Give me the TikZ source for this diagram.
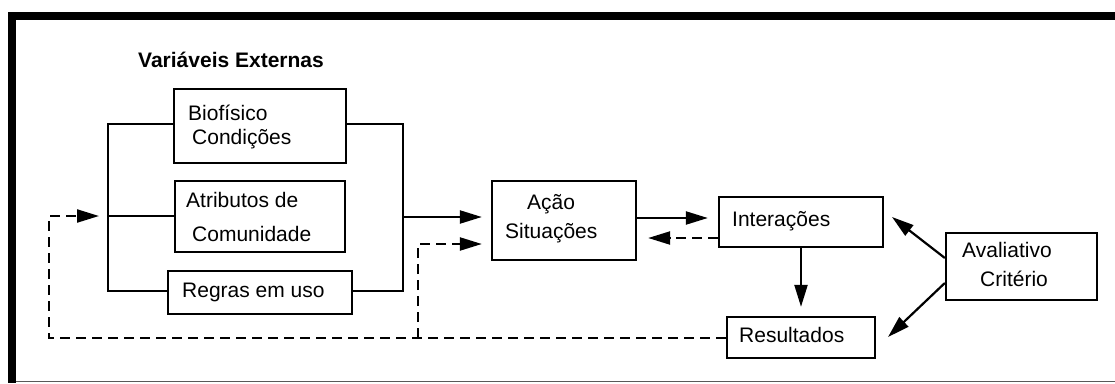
\documentclass[tikz,border=0pt]{standalone}
\usepackage{fontspec}
\setmainfont{Liberation Sans}
\usetikzlibrary{arrows.meta}
\begin{document}
\begin{tikzpicture}[x=1pt,y=-1pt,
  box/.style={draw,line width=2.3pt,inner sep=0pt},
  txt/.style={anchor=base west,inner sep=0pt,font=\fontsize{21}{25}\selectfont},
  conn/.style={line width=2.2pt},
  arr/.style={conn,-{Triangle[length=22pt,width=13pt]}},
  dsh/.style={dash pattern=on 10pt off 6pt}]
\useasboundingbox (0,0) rectangle (1115,383);
% frame
\fill (8,12) rectangle (1115,20);
\fill (8,12) rectangle (16,383);
\draw[gray!70!black,line width=1.2pt] (16,381.6) -- (1115,381.6);
% boxes
\node[box,minimum width=172pt,minimum height=74pt] (bio) at (260,126) {};
\node[box,minimum width=170pt,minimum height=71pt] (atr) at (260,216.5) {};
\node[box,minimum width=184pt,minimum height=43pt] (reg) at (260,292.5) {};
\node[box,minimum width=144pt,minimum height=79pt] (acao) at (564,220.5) {};
\node[box,minimum width=164pt,minimum height=50pt] (inter) at (801,222) {};
\node[box,minimum width=148pt,minimum height=41pt] (res) at (801,337.5) {};
\node[box,minimum width=151pt,minimum height=67pt] (aval) at (1021.5,266.5) {};
% texts
\node[txt,font=\fontsize{21}{25}\selectfont\bfseries] (title) at (138,67) {Variáveis Externas};
\node[txt] (tbio1) at (188,120) {Biofísico};
\node[txt] (tbio2) at (192,144) {Condições};
\node[txt] (tatr1) at (186,207) {Atributos de};
\node[txt] (tatr2) at (192,241) {Comunidade};
\node[txt] (treg) at (182,297) {Regras em uso};
\node[txt] (tac1) at (527,209) {Ação};
\node[txt] (tac2) at (505,238) {Situações};
\node[txt] (tint) at (732,226) {Interações};
\node[txt] (tres) at (739,342) {Resultados};
\node[txt] (tav1) at (962,257) {Avaliativo};
\node[txt] (tav2) at (980,286) {Critério};
% helper coordinates
\coordinate (lt) at (108,124);
\coordinate (lm) at (108,216);
\coordinate (lb) at (108,291);
\coordinate (rt) at (403,124);
\coordinate (rm) at (403,217);
\coordinate (rb) at (403,291);
\coordinate (fb) at (49,338);
\coordinate (jn) at (418,338);
\coordinate (ah) at (418,244);
\coordinate (y1) at (0,218);
\coordinate (y2) at (0,238);
\coordinate (av1) at (0,258);
\coordinate (av2) at (0,283);
\coordinate (tipI) at (892,217);
\coordinate (tipR) at (888,337);
% left and right buses
\draw[conn] (bio.west |- lt) -- (lt) -- (lb) -- (reg.west |- lb);
\draw[conn] (lm) -- (atr.west |- lm);
\draw[conn] (bio.east |- rt) -- (rt) -- (rb) -- (reg.east |- rb);
\draw[arr,shorten >=9pt] (rm) -- (acao.west |- rm);
% feedback dashed
\draw[arr,dsh,shorten >=9pt] (res.west |- fb) -- (fb) -- (fb |- lm) -- (lm);
\draw[arr,dsh,shorten >=9pt] (jn) -- (ah) -- (acao.west |- ah);
% middle
\draw[arr,shorten >=10pt] (acao.east |- y1) -- (inter.west |- y1);
\draw[arr,dsh,shorten >=11pt] (inter.west |- y2) -- (acao.east |- y2);
\draw[arr,shorten >=9pt] (inter.south) -- (res.north);
\draw[arr] (aval.west |- av1) -- (tipI);
\draw[arr] (aval.west |- av2) -- (tipR);
\end{tikzpicture}
\end{document}
